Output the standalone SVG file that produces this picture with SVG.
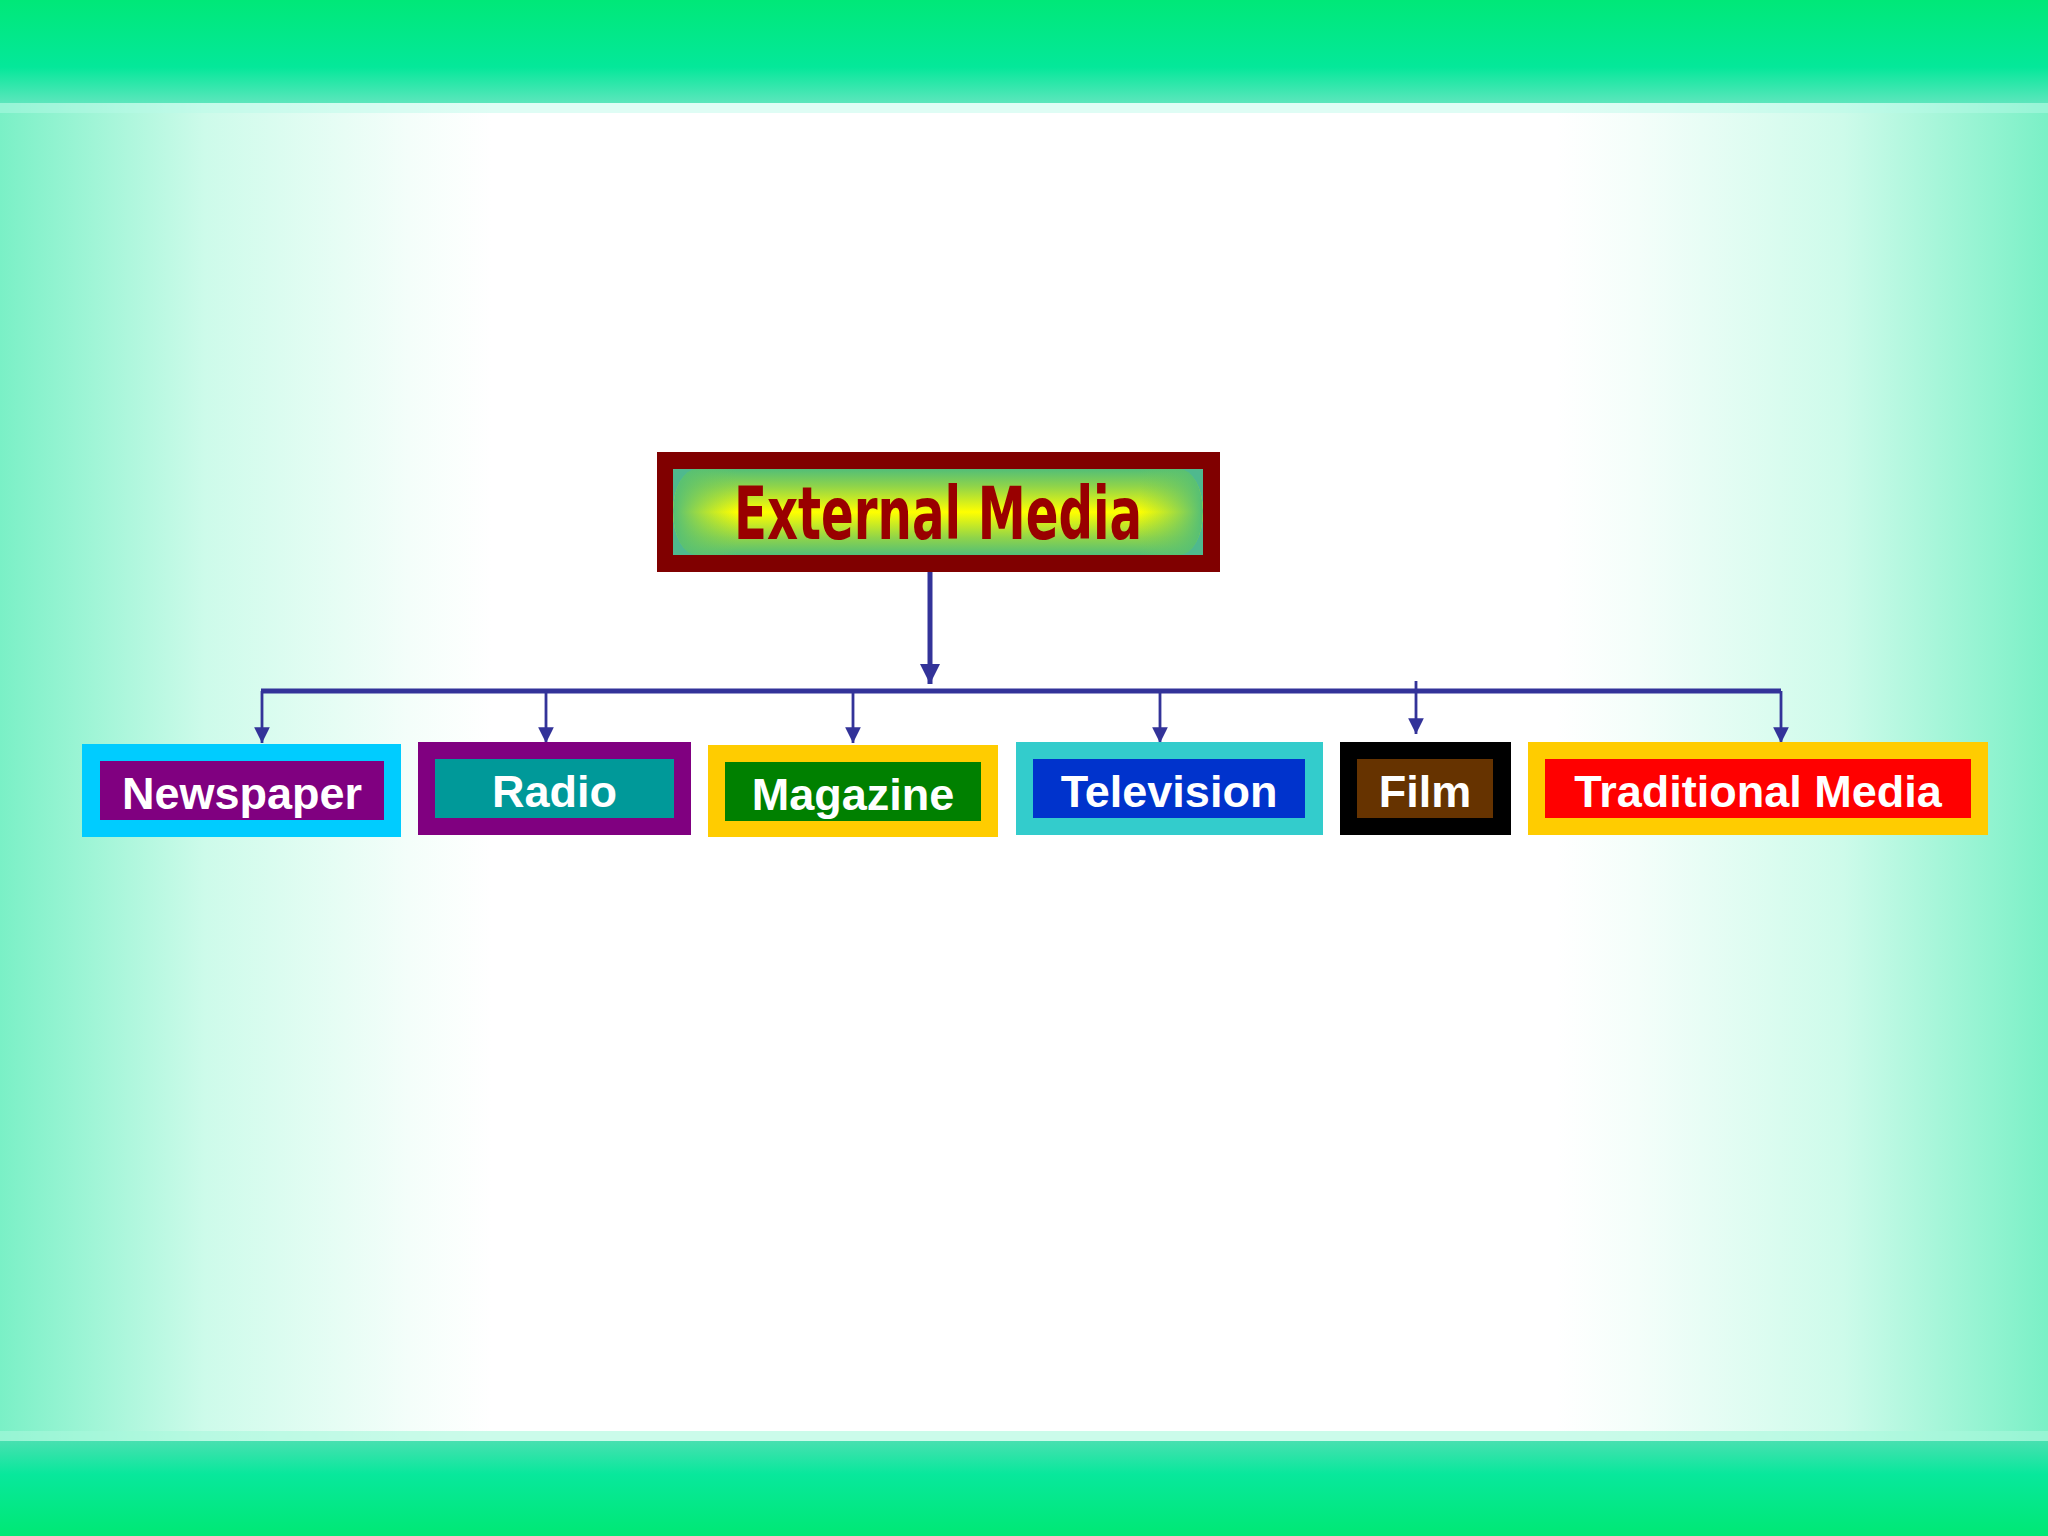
<svg xmlns="http://www.w3.org/2000/svg" width="2048" height="1536" viewBox="0 0 2048 1536">
<defs>
<linearGradient id="bgH" x1="0" y1="0" x2="1" y2="0">
<stop offset="0" stop-color="#7af0c6"/>
<stop offset="0.1" stop-color="#cdfbea"/>
<stop offset="0.2" stop-color="#f4fefa"/>
<stop offset="0.24" stop-color="#ffffff"/>
<stop offset="0.76" stop-color="#ffffff"/>
<stop offset="0.8" stop-color="#f4fefa"/>
<stop offset="0.9" stop-color="#cdfbea"/>
<stop offset="1" stop-color="#7af0c6"/>
</linearGradient>
<linearGradient id="topBand" x1="0" y1="0" x2="0" y2="1">
<stop offset="0" stop-color="#00e878"/>
<stop offset="0.65" stop-color="#04e89a"/>
<stop offset="1" stop-color="#5ce6bc"/>
</linearGradient>
<linearGradient id="botBand" x1="0" y1="0" x2="0" y2="1">
<stop offset="0" stop-color="#48e0b0"/>
<stop offset="0.35" stop-color="#08e89c"/>
<stop offset="1" stop-color="#00e874"/>
</linearGradient>
<linearGradient id="glowV" x1="0" y1="0" x2="0" y2="1">
<stop offset="0" stop-color="#52be78"/>
<stop offset="0.2" stop-color="#8fd44a"/>
<stop offset="0.5" stop-color="#ffff00"/>
<stop offset="0.8" stop-color="#8fd44a"/>
<stop offset="1" stop-color="#52be78"/>
</linearGradient>
<linearGradient id="glowH" x1="0" y1="0" x2="1" y2="0">
<stop offset="0" stop-color="#52be78" stop-opacity="1"/>
<stop offset="0.12" stop-color="#6ec860" stop-opacity="0"/>
<stop offset="0.88" stop-color="#6ec860" stop-opacity="0"/>
<stop offset="1" stop-color="#52be78" stop-opacity="1"/>
</linearGradient>
<marker id="arrowBig" viewBox="0 0 10 10" refX="10" refY="5" markerWidth="4" markerHeight="4" markerUnits="strokeWidth" orient="auto">
<path d="M0,0 L10,5 L0,10 z" fill="#333399"/>
</marker>
<marker id="arrowSmall" viewBox="0 0 10 10" refX="10" refY="5" markerWidth="5.6" markerHeight="5.6" markerUnits="strokeWidth" orient="auto">
<path d="M0,0 L10,5 L0,10 z" fill="#333399"/>
</marker>
<style>
.lbl{font-family:"Liberation Sans",Arial,sans-serif;font-weight:bold;font-size:45px;fill:#ffffff;text-anchor:middle}
.title{font-family:"DejaVu Sans Condensed","DejaVu Sans",sans-serif;font-weight:bold;font-size:73px;fill:#990000}
.conn{stroke:#333399;fill:none}
</style>
</defs>

<g id="background">
<rect x="0" y="0" width="2048" height="1536" fill="url(#bgH)"/>
<rect x="0" y="0" width="2048" height="103" fill="url(#topBand)"/>
<rect x="0" y="103" width="2048" height="10" fill="#b8fbe8" opacity="0.45"/>
<rect x="0" y="1431" width="2048" height="10" fill="#a8f8dc" opacity="0.6"/>
<rect x="0" y="1441" width="2048" height="95" fill="url(#botBand)"/>
</g>

<g id="connectors">
<line class="conn" x1="930" y1="572" x2="930" y2="684" stroke-width="5" marker-end="url(#arrowBig)"/>
<line class="conn" x1="261" y1="691" x2="1781" y2="691" stroke-width="5"/>
<line class="conn" x1="262" y1="691" x2="262" y2="743" stroke-width="2.8" marker-end="url(#arrowSmall)"/>
<line class="conn" x1="546" y1="691" x2="546" y2="743" stroke-width="2.8" marker-end="url(#arrowSmall)"/>
<line class="conn" x1="853" y1="691" x2="853" y2="743" stroke-width="2.8" marker-end="url(#arrowSmall)"/>
<line class="conn" x1="1160" y1="691" x2="1160" y2="743" stroke-width="2.8" marker-end="url(#arrowSmall)"/>
<line class="conn" x1="1416" y1="681" x2="1416" y2="734" stroke-width="2.8" marker-end="url(#arrowSmall)"/>
<line class="conn" x1="1781" y1="691" x2="1781" y2="743" stroke-width="2.8" marker-end="url(#arrowSmall)"/>
</g>

<g id="external-media">
<rect x="657" y="452" width="563" height="120" fill="#800000"/>
<rect x="673" y="469" width="530" height="86" fill="#4fb98e"/>
<rect x="673" y="469" width="530" height="86" rx="24" ry="43" fill="url(#glowV)"/>
<rect x="673" y="469" width="530" height="86" rx="24" ry="43" fill="url(#glowH)"/>
<text class="title" x="734" y="539" textLength="408" lengthAdjust="spacingAndGlyphs">External Media</text>
</g>

<g id="newspaper">
<rect x="82" y="744" width="319" height="93" fill="#00ccff"/>
<rect x="100" y="761" width="284" height="59" fill="#800080"/>
<text class="lbl" x="242" y="809">Newspaper</text>
</g>

<g id="radio">
<rect x="418" y="742" width="273" height="93" fill="#800080"/>
<rect x="435" y="759" width="239" height="59" fill="#009999"/>
<text class="lbl" x="554.500" y="807">Radio</text>
</g>

<g id="magazine">
<rect x="708" y="745" width="290" height="92" fill="#ffcc00"/>
<rect x="725" y="762" width="256" height="59" fill="#008000"/>
<text class="lbl" x="853" y="810">Magazine</text>
</g>

<g id="television">
<rect x="1016" y="742" width="307" height="93" fill="#33cccc"/>
<rect x="1033" y="759" width="272" height="59" fill="#0033cc"/>
<text class="lbl" x="1169" y="807">Television</text>
</g>

<g id="film">
<rect x="1340" y="742" width="171" height="93" fill="#000000"/>
<rect x="1357" y="759" width="136" height="59" fill="#663300"/>
<text class="lbl" x="1425" y="807">Film</text>
</g>

<g id="traditional-media">
<rect x="1528" y="742" width="460" height="93" fill="#ffcc00"/>
<rect x="1545" y="759" width="426" height="59" fill="#ff0000"/>
<text class="lbl" x="1758" y="807">Traditional Media</text>
</g>
</svg>
